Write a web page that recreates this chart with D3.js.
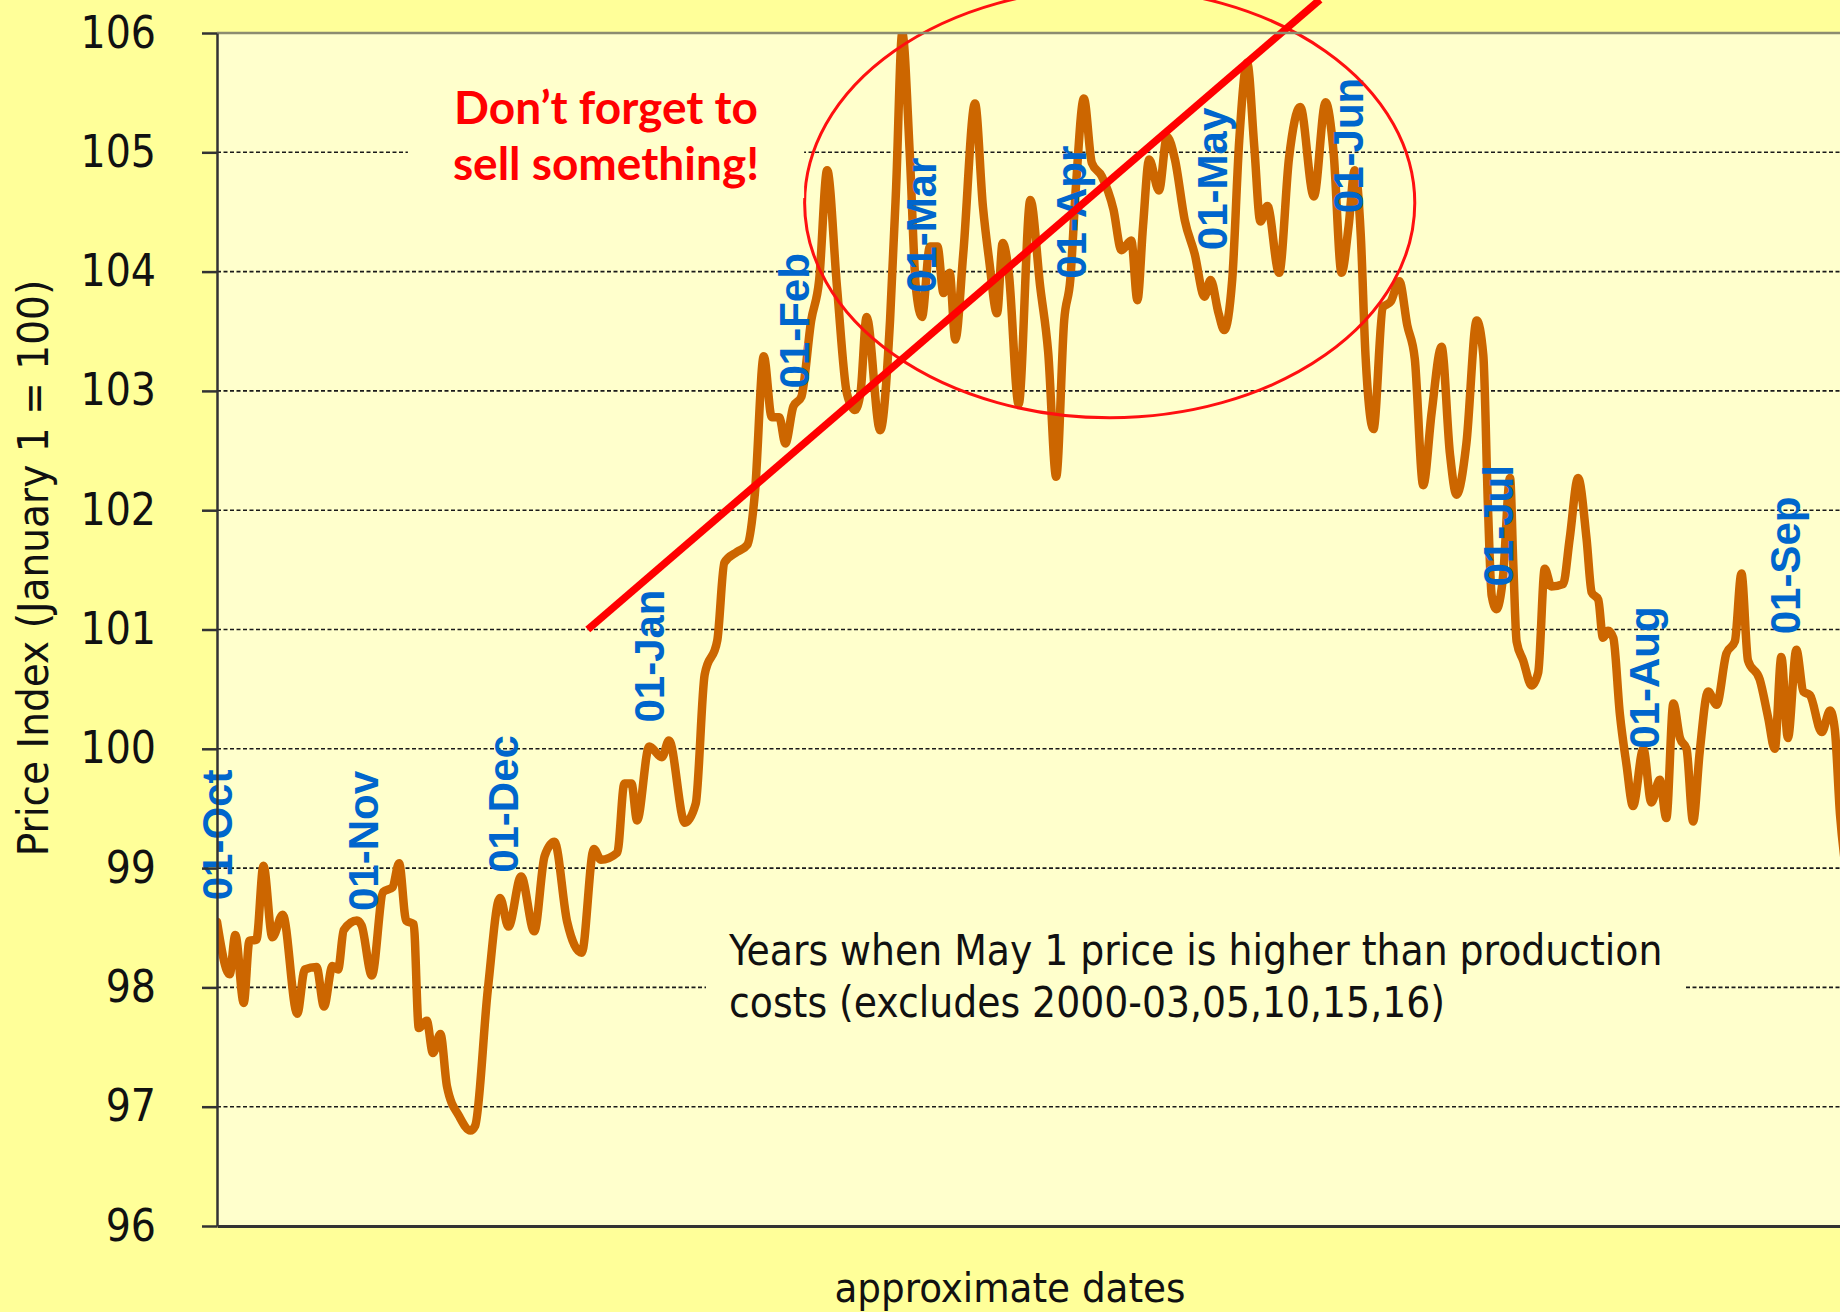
<!DOCTYPE html>
<html>
<head>
<meta charset="utf-8">
<script src="https://cdn.jsdelivr.net/npm/d3@7"></script>
<style>
  html, body { margin: 0; padding: 0; background: #FFFF99; }
  svg { display: block; }
</style>
</head>
<body>
<svg id="chart" width="1840" height="1312"></svg>
<script>
// Average seasonal price index, [day of season counted from 1 October, index (January 1 = 100)]
const pricePoints = [
  [0, 98.55], [2.7, 98.11], [3.9, 98.44], [5.7, 97.87], [6.9, 98.39], [8.4, 98.40],
  [9.9, 99.02], [11.8, 98.42], [14.0, 98.61], [17.1, 97.78], [18.7, 98.15], [21.2, 98.17],
  [22.8, 97.84], [24.6, 98.18], [25.8, 98.15], [27.0, 98.48], [29.8, 98.56], [30.8, 98.52],
  [33.0, 98.10], [35.4, 98.80], [37.4, 98.84], [38.8, 99.04], [40.3, 98.56], [41.9, 98.53],
  [43.0, 97.66], [44.7, 97.72], [46.0, 97.45], [47.6, 97.61], [49.0, 97.17], [51.6, 96.92],
  [54.0, 96.80], [55.0, 96.84], [57.7, 97.98], [60.3, 98.75], [62.1, 98.51], [64.8, 98.93],
  [67.6, 98.47], [69.8, 99.10], [71.9, 99.22], [74.6, 98.55], [77.7, 98.29], [80.3, 99.16],
  [81.8, 99.07], [85.3, 99.13], [86.8, 99.71], [88.3, 99.71], [89.5, 99.40], [92.1, 100.02],
  [94.8, 99.93], [96.3, 100.07], [99.7, 99.38], [102.0, 99.54], [103.9, 100.62], [106.6, 100.91],
  [108.1, 101.56], [110.8, 101.65], [113.0, 101.71], [114.6, 102.14], [116.5, 103.29], [118.2, 102.78],
  [119.8, 102.78], [121.1, 102.56], [122.8, 102.87], [124.5, 102.95], [126.6, 103.59], [128.3, 103.93],
  [130.0, 104.85], [132.1, 103.87], [134.2, 102.98], [135.9, 102.84], [137.1, 102.98], [138.4, 103.62],
  [141.3, 102.67], [143.4, 103.59], [144.7, 104.71], [146.0, 106.00], [147.6, 104.99], [148.9, 103.87],
  [150.2, 103.62], [151.9, 104.21], [153.5, 104.21], [154.8, 103.82], [156.1, 103.99], [157.3, 103.43],
  [159.0, 104.15], [161.5, 105.41], [163.2, 104.54], [164.5, 104.10], [166.2, 103.65], [167.4, 104.24],
  [168.7, 103.99], [170.8, 102.89], [173.3, 104.60], [175.4, 103.87], [177.1, 103.32], [178.8, 102.28],
  [180.5, 103.59], [181.8, 103.93], [183.0, 104.71], [184.7, 105.45], [186.4, 104.91], [188.5, 104.80],
  [191.0, 104.52], [192.7, 104.18], [194.8, 104.26], [196.1, 103.76], [197.3, 104.38], [198.6, 104.94],
  [200.7, 104.68], [202.4, 105.13], [204.1, 104.94], [206.2, 104.43], [208.3, 104.15], [210.4, 103.79],
  [211.7, 103.93], [213.4, 103.65], [214.6, 103.51], [216.3, 103.93], [217.8, 105.10], [219.5, 105.75],
  [221.0, 105.05], [222.3, 104.42], [223.8, 104.55], [226.3, 103.99], [228.4, 104.95], [230.8, 105.38],
  [233.7, 104.63], [236.2, 105.42], [237.9, 105.00], [239.6, 103.99], [241.1, 104.38], [242.4, 104.85],
  [243.7, 104.30], [244.7, 103.30], [246.4, 102.68], [248.4, 103.70], [250.1, 103.75], [251.9, 103.92],
  [253.6, 103.55], [255.2, 103.27], [257.0, 102.21], [258.8, 102.82], [260.9, 103.37], [262.7, 102.47],
  [264.1, 102.13], [266.2, 102.56], [268.4, 103.59], [269.8, 103.30], [270.8, 102.02], [271.6, 101.28],
  [272.6, 101.17], [274.0, 101.44], [275.5, 102.27], [276.2, 101.54], [276.9, 100.90], [278.3, 100.74],
  [280.1, 100.53], [281.5, 100.64], [282.9, 101.51], [284.3, 101.36], [286.8, 101.38], [288.2, 101.76],
  [290.0, 102.27], [291.8, 101.76], [292.9, 101.31], [294.3, 101.25], [295.3, 100.93], [296.4, 100.99],
  [297.5, 100.93], [298.9, 100.29], [300.3, 99.87], [301.7, 99.52], [303.9, 100.00], [305.6, 99.55],
  [307.4, 99.74], [308.8, 99.42], [310.3, 100.38], [311.7, 100.09], [313.1, 100.00], [314.5, 99.39],
  [315.9, 99.97], [317.7, 100.48], [319.5, 100.37], [321.6, 100.80], [323.4, 100.90], [324.8, 101.47],
  [326.2, 100.74], [328.7, 100.58], [330.5, 100.26], [331.9, 100.00], [333.3, 100.77], [334.7, 100.09],
  [336.5, 100.83], [338.0, 100.48], [339.4, 100.45], [341.9, 100.14], [343.7, 100.32], [344.7, 100.16],
  [345.8, 99.45], [347.0, 99.00]
];

// Month markers along the series: text, season day, index level where the label starts
const monthLabels = ["01-Oct", "01-Nov", "01-Dec", "01-Jan", "01-Feb", "01-Mar",
                     "01-Apr", "01-May", "01-Jun", "01-Jul", "01-Aug", "01-Sep"];
const monthLabelDays = [0, 31, 61, 92, 123, 150, 182, 212, 241, 273, 304, 334];
const monthLabelLevels = [98.73, 98.64, 98.96, 100.22, 103.02, 103.82,
                          103.94, 104.18, 104.49, 101.36, 100.00, 100.96];

const yTicks = [96, 97, 98, 99, 100, 101, 102, 103, 104, 105, 106];

// Rising trend stroke and the circled topping zone (season day / index units)
const trendStart = [79, 101.0];
const trendEnd = [235, 106.28];
const topZone = { day: 190.2, level: 104.575, dayRadius: 65, levelRadius: 1.80 };

const noteLines = ["Don\u2019t forget to", "sell something!"];
const captionLines = ["Years when May 1 price is higher than production",
                      "costs (excludes 2000-03,05,10,15,16)"];

const W = 1840, H = 1312;
const plot = { left: 217, top: 33, right: 1840, bottom: 1226 };
const bodyFont = "'DejaVu Sans Condensed', 'DejaVu Sans', sans-serif";

const svg = d3.select("#chart");

const x = d3.scaleLinear().domain([0, 345.8]).range([plot.left, plot.right]);
const y = d3.scaleLinear().domain([96, 106]).range([plot.bottom, plot.top]);

// backgrounds
svg.append("rect").attr("width", W).attr("height", H).attr("fill", "#FFFF99");
svg.append("rect")
  .attr("x", plot.left).attr("y", plot.top)
  .attr("width", plot.right - plot.left).attr("height", plot.bottom - plot.top)
  .attr("fill", "#FFFFCC");

svg.append("defs").append("clipPath").attr("id", "plotClip")
  .append("rect")
  .attr("x", plot.left).attr("y", plot.top)
  .attr("width", plot.right - plot.left).attr("height", plot.bottom - plot.top);

// dashed horizontal gridlines
svg.append("g")
  .selectAll("line")
  .data(yTicks.filter(v => v > 96 && v < 106))
  .join("line")
  .attr("x1", plot.left).attr("x2", plot.right)
  .attr("y1", d => y(d)).attr("y2", d => y(d))
  .attr("stroke", "#1a1a1a")
  .attr("stroke-width", 1.6)
  .attr("stroke-dasharray", "4,2.5");

// price series
const line = d3.line()
  .x(d => x(d[0]))
  .y(d => y(d[1]))
  .curve(d3.curveMonotoneX);

svg.append("path")
  .datum(pricePoints)
  .attr("clip-path", "url(#plotClip)")
  .attr("d", line)
  .attr("fill", "none")
  .attr("stroke", "#CC6600")
  .attr("stroke-width", 8.5)
  .attr("stroke-linejoin", "round")
  .attr("stroke-linecap", "round");

// month markers
svg.append("g")
  .selectAll("text")
  .data(monthLabels)
  .join("text")
  .attr("transform", (d, i) => `translate(${x(monthLabelDays[i])},${y(monthLabelLevels[i])}) rotate(-90)`)
  .attr("dy", "0.36em")
  .attr("text-anchor", "start")
  .attr("font-family", "'Liberation Sans', Arial, sans-serif")
  .attr("font-weight", "bold")
  .attr("font-size", 42)
  .attr("fill", "#0066CC")
  .text(d => d);

// circled topping zone
svg.append("ellipse")
  .attr("cx", x(topZone.day))
  .attr("cy", y(topZone.level))
  .attr("rx", x(topZone.day + topZone.dayRadius) - x(topZone.day))
  .attr("ry", y(topZone.level - topZone.levelRadius) - y(topZone.level))
  .attr("fill", "none")
  .attr("stroke", "#FF1010")
  .attr("stroke-width", 3);

// reminder note on its own text box
const noteG = svg.append("g");
const noteBox = noteG.append("rect").attr("fill", "#FFFFCC");
const noteText = noteG.append("text")
  .attr("text-anchor", "middle")
  .attr("font-family", "Lato, 'Noto Sans', sans-serif")
  .attr("font-weight", "bold")
  .attr("font-size", 46)
  .attr("fill", "#FF0000");
noteText.selectAll("tspan").data(noteLines).join("tspan")
  .attr("x", 606)
  .attr("y", (d, i) => 124 + i * 56)
  .text(d => d);
{
  const b = noteText.node().getBBox();
  noteBox.attr("x", b.x - 45).attr("y", b.y - 12)
    .attr("width", b.width + 90).attr("height", b.height + 20);
}

// trend stroke
svg.append("line")
  .attr("x1", x(trendStart[0])).attr("y1", y(trendStart[1]))
  .attr("x2", x(trendEnd[0])).attr("y2", y(trendEnd[1]))
  .attr("stroke", "#FF0000")
  .attr("stroke-width", 7.5);

// caption box in the lower part of the plot
const capG = svg.append("g");
const capBox = capG.append("rect").attr("fill", "#FFFFCC");
const capText = capG.append("text")
  .attr("font-family", bodyFont)
  .attr("font-size", 42)
  .attr("fill", "#111");
capText.selectAll("tspan").data(captionLines).join("tspan")
  .attr("x", 729)
  .attr("y", (d, i) => 965 + i * 52)
  .text(d => d);
{
  const b = capText.node().getBBox();
  capBox.attr("x", b.x - 22).attr("y", b.y - 10)
    .attr("width", b.width + 44).attr("height", b.height + 20);
}

// top border
svg.append("line")
  .attr("x1", plot.left).attr("x2", plot.right)
  .attr("y1", plot.top).attr("y2", plot.top)
  .attr("stroke", "#8C8C70").attr("stroke-width", 2.5);

// value axis
const yAxis = svg.append("g")
  .attr("transform", `translate(${plot.left},0)`)
  .call(d3.axisLeft(y).tickValues(yTicks).tickSize(15).tickSizeOuter(0).tickPadding(46).tickFormat(d3.format("d")));
yAxis.select(".domain").attr("stroke", "#333").attr("stroke-width", 2.5);
yAxis.selectAll(".tick line").attr("stroke", "#333").attr("stroke-width", 2.5);
yAxis.selectAll(".tick text")
  .attr("font-family", bodyFont)
  .attr("font-size", 44)
  .attr("fill", "#111");

// date axis baseline
const xAxis = svg.append("g")
  .attr("transform", `translate(0,${plot.bottom})`)
  .call(d3.axisBottom(x).tickValues([]).tickSizeOuter(0));
xAxis.select(".domain").attr("stroke", "#333").attr("stroke-width", 3);

// axis titles
svg.append("text")
  .attr("transform", `translate(48,568) rotate(-90)`)
  .attr("text-anchor", "middle")
  .attr("font-family", bodyFont)
  .attr("font-size", 43.5)
  .attr("fill", "#111")
  .text("Price Index (January 1 = 100)");

svg.append("text")
  .attr("x", 1010).attr("y", 1302)
  .attr("text-anchor", "middle")
  .attr("font-family", bodyFont)
  .attr("font-size", 41.5)
  .attr("fill", "#111")
  .text("approximate dates");
</script>
</body>
</html>
